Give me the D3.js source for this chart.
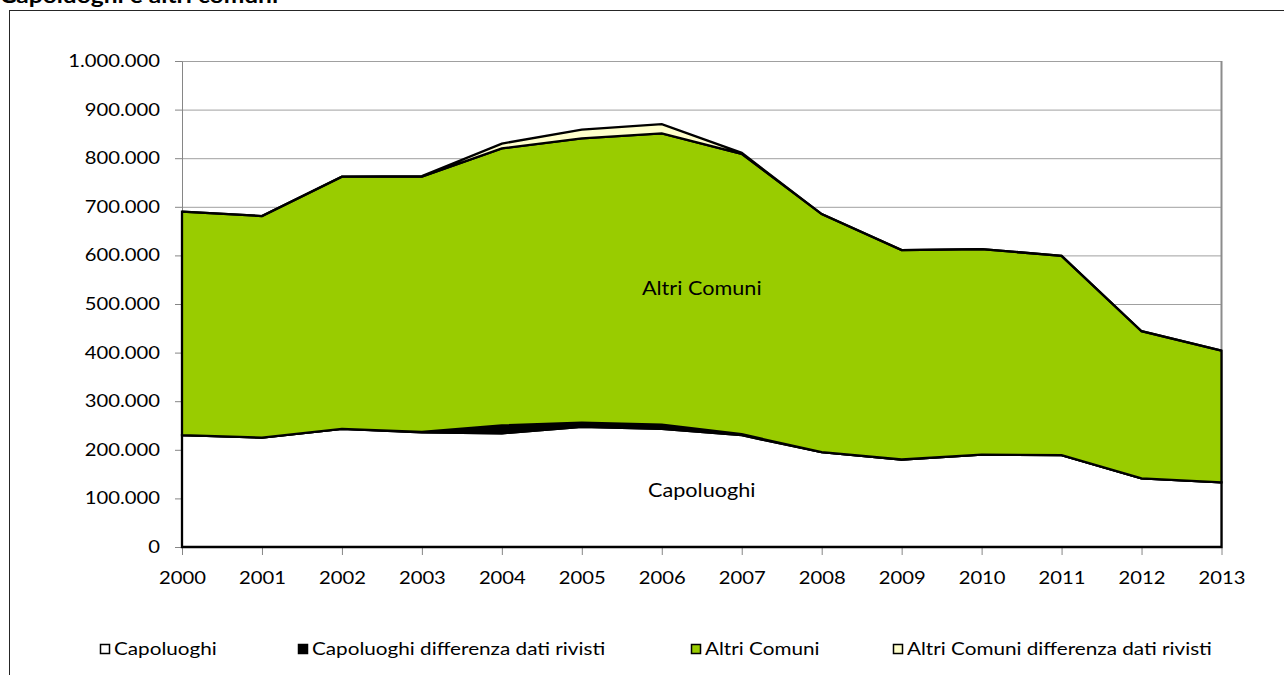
<!DOCTYPE html>
<html>
<head>
<meta charset="utf-8">
<script src="https://cdn.jsdelivr.net/npm/d3@7"></script>
<style>
  body { margin: 0; background: #fff; }
  text { font-family: Lato, "Open Sans", sans-serif; fill: #000; }
</style>
</head>
<body>
<svg id="chart" width="1284" height="675"></svg>
<script>
// values (number of units)
const years = [2000, 2001, 2002, 2003, 2004, 2005, 2006, 2007, 2008, 2009, 2010, 2011, 2012, 2013];
const capoluoghi = [230000, 225000, 243000, 236000, 234000, 247000, 243000, 230000, 195000, 180000, 190000, 189000, 141000, 133000];
const capoluoghiDiff = [0, 0, 0, 1000, 16000, 9000, 9000, 2000, 0, 0, 0, 0, 0, 0];
const altriComuni = [460000, 456000, 519000, 525000, 570000, 585000, 599000, 577000, 490000, 431000, 423000, 410000, 303000, 271000];
const altriComuniDiff = [0, 0, 0, 1000, 10000, 18000, 19000, 2000, 0, 0, 0, 0, 0, 0];

const seriesKeys = ["capo", "capoDiff", "altri", "altriDiff"];
const seriesNames = ["Capoluoghi", "Capoluoghi differenza dati rivisti", "Altri Comuni", "Altri Comuni differenza dati rivisti"];
const seriesColors = ["#ffffff", "#000000", "#99cc00", "#ffffcc"];
const yTicks = d3.range(0, 1000001, 100000);
const title = "Capoluoghi e altri comuni";

// the original picture is a bit stretched sideways, so text gets scaled in x
const SX = 1.17;
const plot = { left: 182, right: 1221.5, top: 61, bottom: 547 };

const rows = years.map((yr, i) => ({
  year: yr,
  capo: capoluoghi[i],
  capoDiff: capoluoghiDiff[i],
  altri: altriComuni[i],
  altriDiff: altriComuniDiff[i]
}));
const stacked = d3.stack().keys(seriesKeys)(rows);

const x = d3.scalePoint().domain(years).range([plot.left, plot.right]);
const y = d3.scaleLinear().domain([0, 1000000]).range([plot.bottom, plot.top]);

const it = d3.formatLocale({ decimal: ",", thousands: ".", grouping: [3], currency: ["€", ""] });
const fmt = it.format(",");

const svg = d3.select("#chart");

function stretched(sel, px, py) {
  return sel.attr("transform", `translate(${px},${py}) scale(${SX},1)`);
}

// chart frame (only top and left edges are inside the picture)
svg.append("rect")
  .attr("x", 9.5).attr("y", 10.5)
  .attr("width", 1400).attr("height", 800)
  .attr("fill", "none")
  .attr("stroke", "#262626");

stretched(svg.append("text"), 0, 3)
  .attr("font-size", 21)
  .attr("font-weight", "bold")
  .text(title);

// gridlines + plot border
svg.append("g")
  .selectAll("line")
  .data(yTicks.filter(d => d > 0))
  .join("line")
  .attr("x1", plot.left).attr("x2", plot.right)
  .attr("y1", d => y(d) + 0.5).attr("y2", d => y(d) + 0.5)
  .attr("stroke", "#a0a0a0");

svg.append("line")
  .attr("x1", plot.right).attr("x2", plot.right)
  .attr("y1", plot.top).attr("y2", plot.bottom)
  .attr("stroke", "#8c8c8c")
  .attr("stroke-width", 2);

// axes
const yAxis = svg.append("g")
  .attr("transform", `translate(${plot.left},0)`)
  .call(d3.axisLeft(y).tickValues(yTicks).tickSize(7).tickSizeOuter(0).tickFormat(fmt));
yAxis.attr("font-size", 17.3).attr("font-family", null);
yAxis.selectAll("path,line").attr("stroke", "#868686");
yAxis.selectAll("text")
  .attr("x", -22 / SX)
  .attr("transform", `scale(${SX},1)`);

const xAxis = svg.append("g")
  .attr("transform", `translate(0,${plot.bottom})`)
  .call(d3.axisBottom(x).tickSize(8).tickSizeOuter(0));
xAxis.attr("font-size", 17.3).attr("font-family", null);
xAxis.selectAll("path,line").attr("stroke", "#868686");
xAxis.selectAll("text")
  .attr("y", 37).attr("dy", 0)
  .attr("transform", `scale(${SX},1)`);

// stacked areas
const area = d3.area()
  .x(d => x(d.data.year))
  .y0(d => y(d[0]))
  .y1(d => y(d[1]));

svg.append("g")
  .selectAll("path")
  .data(stacked)
  .join("path")
  .attr("d", area)
  .attr("fill", (d, i) => seriesColors[i])
  .attr("stroke", "#000")
  .attr("stroke-width", 2.3)
  .attr("stroke-linejoin", "miter");

// labels inside the areas
const midX = (plot.left + plot.right) / 2;
stretched(svg.append("text"), midX, 295)
  .attr("text-anchor", "middle")
  .attr("font-size", 18.5)
  .text(seriesNames[2]);
stretched(svg.append("text"), midX, 497)
  .attr("text-anchor", "middle")
  .attr("font-size", 18.5)
  .text(seriesNames[0]);

// legend
const legendX = [100, 298, 691, 893];
const legend = svg.append("g")
  .selectAll("g")
  .data(seriesNames)
  .join("g")
  .attr("transform", (d, i) => `translate(${legendX[i]},649)`);

legend.append("rect")
  .attr("x", 0.5).attr("y", -4.5)
  .attr("width", 9).attr("height", 9)
  .attr("fill", (d, i) => seriesColors[i])
  .attr("stroke", "#000")
  .attr("stroke-width", 1.5);

legend.append("text")
  .attr("x", 14 / SX)
  .attr("y", 6)
  .attr("transform", `scale(${SX},1)`)
  .attr("font-size", 17.7)
  .text(d => d);
</script>
</body>
</html>
